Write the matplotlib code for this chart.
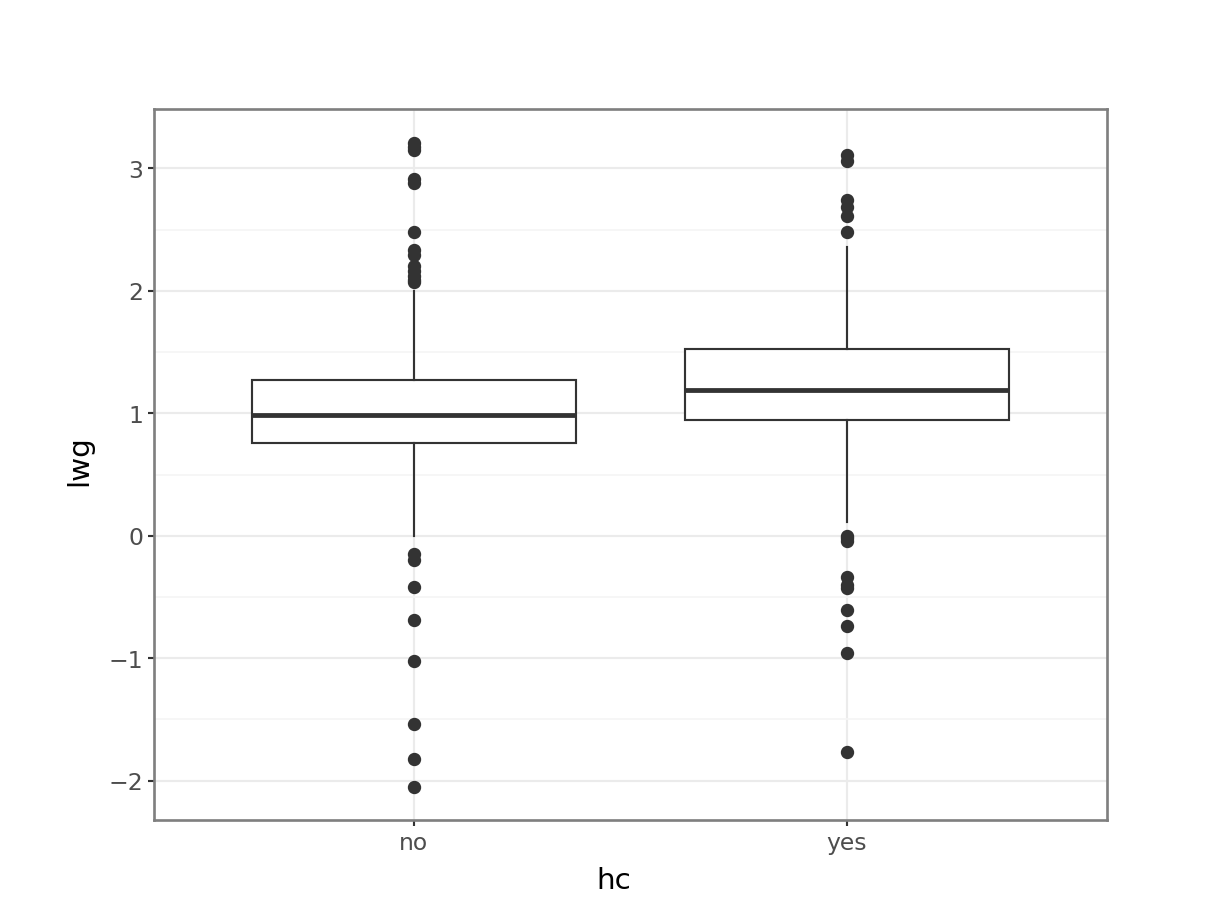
import matplotlib
matplotlib.use("Agg")
import matplotlib.pyplot as plt
from matplotlib.ticker import MultipleLocator

# data
groups = ["no", "yes"]
q1 = [0.76, 0.948]
med = [0.989, 1.193]
q3 = [1.275, 1.528]
whislo = [0.0, 0.114]
whishi = [2.0, 2.36]
fliers_no = [3.21, 3.17, 3.15, 2.91, 2.88, 2.48, 2.33, 2.29, 2.20, 2.16, 2.12, 2.09, 2.07,
             -0.147, -0.196, -0.417, -0.686, -1.02, -1.536, -1.82, -2.05]
fliers_yes = [3.11, 3.06, 2.74, 2.68, 2.61, 2.48,
              0.0, -0.016, -0.04, -0.335, -0.40, -0.43, -0.605, -0.735, -0.956, -1.765]
fliers = [fliers_no, fliers_yes]

stats = []
for i, g in enumerate(groups):
    stats.append(dict(label=g, q1=q1[i], med=med[i], q3=q3[i],
                      whislo=whislo[i], whishi=whishi[i], fliers=fliers[i]))

dark = "#333333"
fig = plt.figure(figsize=(6.4, 4.8), dpi=192)
ax = fig.add_axes([154/1228, 1 - 820/921, (1106-154)/1228, (820-110)/921])

ax.bxp(stats, positions=[1, 2], widths=0.75, patch_artist=True, showcaps=False,
       boxprops=dict(facecolor="white", edgecolor=dark, linewidth=0.8),
       medianprops=dict(color=dark, linewidth=1.8),
       whiskerprops=dict(color=dark, linewidth=0.8),
       flierprops=dict(marker="o", markerfacecolor=dark, markeredgecolor=dark,
                       markersize=4.0, linestyle="none"),
       zorder=3)

ax.set_xlim(0.4, 2.6)
ax.set_ylim(-2.32, 3.48)
ax.set_xticks([1, 2])
ax.set_xticklabels(groups)
ax.yaxis.set_major_locator(MultipleLocator(1))
ax.yaxis.set_minor_locator(MultipleLocator(0.5))
ax.set_yticklabels([f"{int(v)}".replace("-", "\u2212") for v in ax.get_yticks()])

ax.grid(True, which="major", color="#EBEBEB", linewidth=0.8, zorder=0)
ax.grid(True, which="minor", axis="y", color="#F5F5F5", linewidth=0.6, zorder=0)
ax.set_axisbelow(True)
ax.tick_params(which="minor", length=0)
ax.tick_params(which="major", length=2.2, width=0.8, color=dark,
               labelsize=8.8, labelcolor="#4D4D4D", pad=2)
for s in ax.spines.values():
    s.set_color("#7F7F7F")
    s.set_linewidth(1.0)

ax.set_xlabel("hc", fontsize=11, labelpad=4)
ax.set_ylabel("lwg", fontsize=11, labelpad=6)
ax.xaxis.set_label_coords(0.483, -0.065)
ax.yaxis.set_label_coords(-0.064, 0.506)

fig.savefig("out.png", dpi=192)
